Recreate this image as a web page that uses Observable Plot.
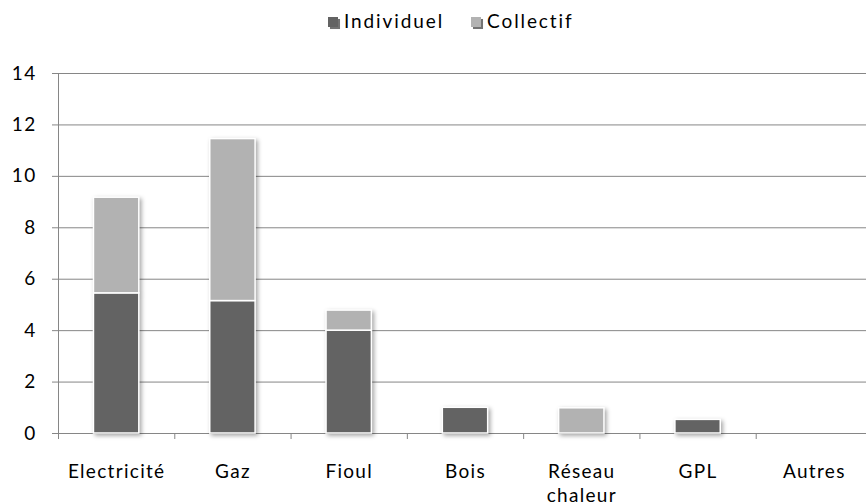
<!DOCTYPE html>
<html>
<head>
<meta charset="utf-8">
<script src="https://cdn.jsdelivr.net/npm/d3@7"></script>
<script src="https://cdn.jsdelivr.net/npm/@observablehq/plot@0.6"></script>
<style>
  html, body { margin: 0; padding: 0; background: #fff; overflow: hidden; width: 866px; height: 503px; }
  #legend { height: 40px; position: relative; font-family: Lato, "Open Sans", sans-serif; font-size: 19px; letter-spacing: 1.9px; color: #000; }
  #legend .row { position: absolute; left: 328px; top: 10px; display: flex; align-items: center; }
  #legend .sw { display: inline-block; width: 10px; height: 10px; margin-right: 6px; margin-top: 2px; box-shadow: 1.5px 1.5px 0.5px rgba(0,0,0,0.55); }
  #legend .lab { margin-right: 27px; line-height: 22px; }
  #chart svg { display: block; }
</style>
</head>
<body>
<div id="legend"><div class="row"></div></div>
<div id="chart"></div>
<script>
const categories = ["Electricité", "Gaz", "Fioul", "Bois", "Réseau\nchaleur", "GPL", "Autres"];
const series = ["Individuel", "Collectif"];
const individuel = [5.45, 5.15, 4.0, 1.0, 0, 0.53, 0];
const collectif = [3.72, 6.3, 0.78, 0, 0.98, 0, 0];
const colors = ["#636363", "#b2b2b2"];
const yTicks = [0, 2, 4, 6, 8, 10, 12, 14];

// legend
const row = d3.select("#legend .row");
series.forEach((s, k) => {
  row.append("span").attr("class", "sw").style("background", colors[k]);
  row.append("span").attr("class", "lab").text(s);
});

// stacked rows
const rows = [];
categories.forEach((c, i) => {
  rows.push({cat: c, i, serie: "Individuel", y1: 0, y2: individuel[i]});
  rows.push({cat: c, i, serie: "Collectif", y1: individuel[i], y2: individuel[i] + collectif[i]});
});
const half = 0.195;
const gridColor = "#868686";

const chart = Plot.plot({
  width: 866,
  height: 463,
  marginLeft: 58,
  marginRight: 0,
  marginTop: 33,
  marginBottom: 70,
  x: {domain: [0, 7], range: [58, 872]},
  y: {domain: [0, 14]},
  color: {domain: series, range: colors},
  style: {fontFamily: "Lato, 'Open Sans', sans-serif", fontSize: "19px", letterSpacing: "1.3px", color: "#000", background: "#fff"},
  marks: [
    Plot.gridY(yTicks, {stroke: gridColor, strokeOpacity: 1, strokeWidth: 1}),
    Plot.axisY(yTicks, {tickSize: 6, tickPadding: 16, stroke: gridColor, strokeOpacity: 1, label: null}),
    Plot.axisX(d3.range(8), {tickSize: 6, tickFormat: () => "", stroke: gridColor, strokeOpacity: 1, label: null}),
    Plot.axisX(categories.map((c, i) => i + 0.5), {tickSize: 0, tickPadding: 27, tickFormat: d => categories[Math.floor(d)], label: null, lineHeight: 1.27}),
    Plot.ruleY([0], {stroke: gridColor, strokeWidth: 1}),
    Plot.ruleX([0], {y1: 0, y2: 14, stroke: gridColor, strokeWidth: 1}),
    Plot.rect(rows, {
      x1: d => d.i + 0.5 - half,
      x2: d => d.i + 0.5 + half,
      y1: "y1",
      y2: "y2",
      fill: "serie",
      stroke: "white",
      strokeWidth: 1.5
    })
  ]
});
document.getElementById("chart").appendChild(chart);
d3.select(chart).selectAll('g[aria-label="rect"]').style("filter", "drop-shadow(2px 2px 2px rgba(0,0,0,0.35))");
</script>
</body>
</html>
